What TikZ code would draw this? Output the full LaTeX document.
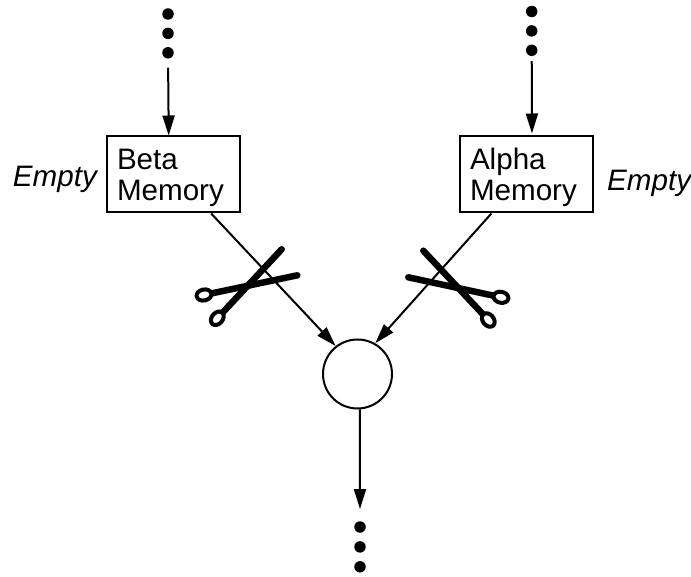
\documentclass[tikz,border=0pt]{standalone}
\usepackage{fontspec}
\setmainfont{Liberation Sans}
\usetikzlibrary{arrows.meta,positioning,shapes.geometric}
\tikzstyle{memory}=[draw,line width=2pt,minimum width=133pt,minimum height=76pt]
\tikzstyle{memorytext}=[inner sep=0pt,text width=113pt,align=left,yshift=-3pt,font=\fontsize{29.6pt}{31pt}\selectfont]
\tikzstyle{emptylabel}=[inner sep=0pt,font=\fontsize{29.6pt}{31pt}\selectfont\itshape]
\tikzstyle{andnode}=[draw,circle,line width=2pt,minimum size=69pt,inner sep=0pt]
\tikzstyle{dot}=[fill=black,circle,minimum size=11.5pt,inner sep=0pt]
\tikzstyle{link}=[line width=2pt,-{Triangle[length=20pt,width=12pt]}]
\tikzstyle{blade}=[line width=6.5pt,line cap=round]
\tikzstyle{ring}=[draw,fill=white,ellipse,line width=4pt,minimum width=15pt,minimum height=11pt,inner sep=0pt]

\begin{document}
\begin{tikzpicture}[x=1pt,y=-1pt]
\useasboundingbox (0,0) rectangle (691,577);
\node [memory] (beta) at (173.5,174.5) {};
\node [memory] (alpha) at (526.5,174.5) {};
\node [memorytext] (betatext) at (beta) {Beta\\Memory};
\node [memorytext] (alphatext) at (alpha) {Alpha\\Memory};
\node [andnode] (and) at (357.5,374) {};
\node [emptylabel,left=9pt of beta,yshift=-5pt] (be) {Empty};
\node [emptylabel,right=13pt of alpha,yshift=-9pt] (ae) {Empty};
% dots above and below
\node [dot] (b1) at (168,14) {};
\node [dot,below=7.5pt of b1] (b2) {};
\node [dot,below=7.5pt of b2] (b3) {};
\node [dot] (a1) at (531.7,11.5) {};
\node [dot,below=7.5pt of a1] (a2) {};
\node [dot,below=7.5pt of a2] (a3) {};
\node [dot] (o1) at (360,527) {};
\node [dot,below=8pt of o1] (o2) {};
\node [dot,below=8pt of o2] (o3) {};
% arrows
\draw [link,shorten <=9pt] (b3) -- (beta.97);
\draw [link,shorten <=5pt,shorten >=2pt] (a3) -- (alpha.82);
\draw [link] (beta.-46.5) -- (and.128);
\draw [link] (alpha.228) -- (and.60.5);
\draw [link,shorten >=12pt] (and.-86) -- (o1);
% left scissors
\coordinate (l1) at (204,295);
\coordinate (l2) at (217.3,318.3);
\coordinate (lt1) at (297.3,275.3);
\coordinate (lt2) at (281.7,249.3);
\draw [blade] (l1) -- (lt1);
\draw [blade] (l2) -- (lt2);
\node [ring,rotate=12] (lr1) at (l1) {};
\node [ring,rotate=50] (lr2) at (l2) {};
% right scissors
\coordinate (r1) at (501,297.3);
\coordinate (r2) at (488.3,320);
\coordinate (rt1) at (408.3,277.3);
\coordinate (rt2) at (423.3,250.7);
\draw [blade] (r1) -- (rt1);
\draw [blade] (r2) -- (rt2);
\node [ring,rotate=-12] (rr1) at (r1) {};
\node [ring,rotate=-50] (rr2) at (r2) {};
\end{tikzpicture}
\end{document}
